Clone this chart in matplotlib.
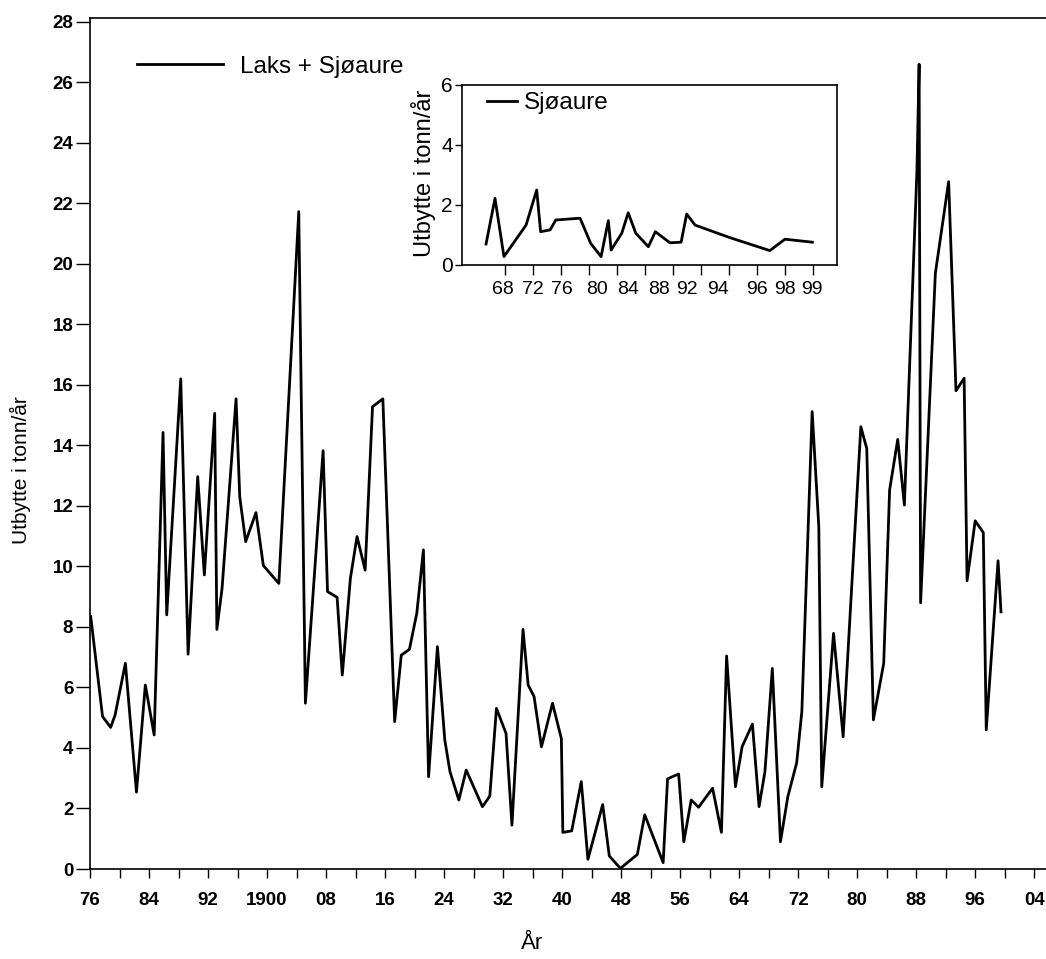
import numpy as np
import matplotlib.pyplot as plt

plt.rcParams['font.family'] = ['Liberation Sans', 'DejaVu Sans']

# Laks + sjøaure, utbytte i tonn/år (lest av figuren)
years = [1876.1, 1877.7, 1878.8, 1879.4, 1880.8, 1882.3, 1883.5, 1884.7, 1885.9, 1886.4,
         1888.3, 1889.3, 1890.6, 1891.5, 1892.9, 1893.2, 1893.9, 1895.8, 1896.3, 1897.1,
         1898.5, 1899.5, 1901.6, 1904.3, 1905.2, 1907.6, 1908.2, 1909.5, 1910.2, 1911.3,
         1912.2, 1913.3, 1914.3, 1915.7, 1917.3, 1918.2, 1919.3, 1920.3, 1921.2, 1921.9,
         1923.1, 1924.1, 1924.8, 1926.0, 1927.0, 1929.2, 1930.2, 1931.1, 1932.4, 1933.2,
         1934.7, 1935.4, 1936.2, 1937.2, 1938.7, 1939.9, 1940.1, 1941.3, 1942.6, 1943.5,
         1945.5, 1946.4, 1947.9, 1950.2, 1951.2, 1953.7, 1954.3, 1955.8, 1956.5, 1957.5,
         1958.5, 1960.4, 1961.6, 1962.3, 1963.5, 1964.4, 1965.8, 1966.7, 1967.5, 1968.5,
         1969.6, 1970.6, 1971.8, 1972.5, 1973.9, 1974.8, 1975.2, 1976.8, 1978.1, 1980.5,
         1981.3, 1982.2, 1983.6, 1984.4, 1985.5, 1986.4, 1988.1, 1988.4, 1988.6, 1990.6,
         1992.4, 1993.4, 1994.5, 1994.9, 1996.0, 1997.1, 1997.5, 1999.1, 1999.5]
catch = [8.34, 5.04, 4.68, 5.09, 6.80, 2.54, 6.08, 4.43, 14.43, 8.40,
         16.20, 7.10, 12.97, 9.72, 15.06, 7.92, 9.27, 15.54, 12.30, 10.82,
         11.78, 10.03, 9.44, 21.73, 5.48, 13.83, 9.17, 8.98, 6.41, 9.61,
         10.99, 9.88, 15.28, 15.54, 4.87, 7.07, 7.26, 8.45, 10.55, 3.05,
         7.35, 4.26, 3.22, 2.28, 3.27, 2.06, 2.41, 5.31, 4.48, 1.45,
         7.92, 6.08, 5.70, 4.04, 5.48, 4.31, 1.21, 1.26, 2.89, 0.32,
         2.13, 0.43, 0.02, 0.48, 1.79, 0.21, 2.98, 3.14, 0.90, 2.28,
         2.04, 2.67, 1.21, 7.04, 2.72, 4.04, 4.79, 2.06, 3.22, 6.63,
         0.90, 2.39, 3.51, 5.20, 15.12, 11.31, 2.72, 7.79, 4.37, 14.62,
         13.90, 4.93, 6.80, 12.53, 14.20, 12.03, 23.05, 26.60, 8.80, 19.69,
         22.72, 15.81, 16.22, 9.53, 11.51, 11.12, 4.60, 10.19, 8.50]

x_tick_years = list(range(1876, 2005, 8))
x_tick_labels = ['76', '84', '92', '1900', '08', '16', '24', '32', '40',
                 '48', '56', '64', '72', '80', '88', '96', '04']

# Sjøaure (innfelt figur), x i aksens egne tikk-enheter
trout_x = [-0.68, -0.36, -0.04, 0.75, 1.13, 1.27, 1.61, 1.81, 2.68, 3.06,
           3.43, 3.69, 3.79, 4.17, 4.40, 4.67, 5.12, 5.37, 5.89, 6.29,
           6.49, 6.79, 8.04, 9.46, 10.0, 10.98]
trout = [0.70, 2.22, 0.28, 1.33, 2.50, 1.11, 1.17, 1.50, 1.56, 0.72,
         0.28, 1.48, 0.50, 1.06, 1.74, 1.06, 0.61, 1.11, 0.74, 0.76,
         1.70, 1.33, 0.91, 0.48, 0.86, 0.76]
inset_label_pos = [-0.07, 1.0, 2.04, 3.3, 4.4, 5.5, 6.5, 7.6, 9.0, 10.0, 10.96]
inset_labels = ['68', '72', '76', '80', '84', '88', '92', '94', '96', '98', '99']

W, H = 1046, 959
fig = plt.figure(figsize=(W / 100, H / 100), dpi=100)

# hovedfigur
ax = fig.add_axes([90 / W, 1 - 869 / H, 956 / W, 850.7 / H])
ax.plot(years, catch, color='black', lw=2.0, label='Laks + Sjøaure')
ax.set_xlim(1876, 2005.6)
ax.set_ylim(0, 28.12)
ax.set_yticks(range(0, 29, 2))
ax.set_xticks(x_tick_years)
ax.set_xticklabels(x_tick_labels)
ax.set_xticks(range(1880, 2005, 8), minor=True)
ax.tick_params(axis='y', length=10, width=1, pad=2, labelsize=13.5)
ax.tick_params(axis='x', which='both', length=6.5, width=1, pad=10, labelsize=13.5)
for t in ax.get_xticklabels() + ax.get_yticklabels():
    t.set_fontweight('bold')
ax.spines['right'].set_visible(False)
for s in ['left', 'bottom', 'top']:
    ax.spines[s].set_linewidth(1.2)

ax.set_xlabel('År', fontsize=16, va='center')
ax.xaxis.set_label_coords(0.4623, -0.087)
ax.set_ylabel('Utbytte i tonn/år', fontsize=15, va='center')
ax.yaxis.set_label_coords(-0.0732, 0.469)

ax.legend(loc='center left', bbox_to_anchor=(0.0488, 0.943), frameon=False,
          fontsize=17.5, handlelength=3.57, handletextpad=0.69,
          borderpad=0, borderaxespad=0)

# innfelt figur: sjøaure
ins = fig.add_axes([461.7 / W, 1 - 265 / H, 375 / W, 180 / H])
ins.plot(trout_x, trout, color='black', lw=2.0, label='Sjøaure')
ins.set_xlim(-1.55, 11.85)
ins.set_ylim(0, 6)
ins.set_yticks([0, 2, 4, 6])
ins.xaxis.remove_overlapping_locs = False
ins.set_xticks(range(12))
ins.set_xticklabels([])
ins.set_xticks(inset_label_pos, minor=True)
ins.set_xticklabels(inset_labels, minor=True)
ins.tick_params(axis='x', which='major', length=7, width=1)
ins.tick_params(axis='x', which='minor', length=0, pad=11.5, labelsize=14)
ins.tick_params(axis='y', length=5, width=1, pad=1.5, labelsize=15)
for s in ins.spines.values():
    s.set_linewidth(1.2)
ins.set_ylabel('Utbytte i tonn/år', fontsize=17, va='center')
ins.yaxis.set_label_coords(-0.1024, 0.511)
ins.legend(loc='center left', bbox_to_anchor=(0.0667, 0.9), frameon=False,
           fontsize=17.5, handlelength=1.23, handletextpad=0.3,
           borderpad=0, borderaxespad=0)

fig.savefig('out.png', dpi=100)
